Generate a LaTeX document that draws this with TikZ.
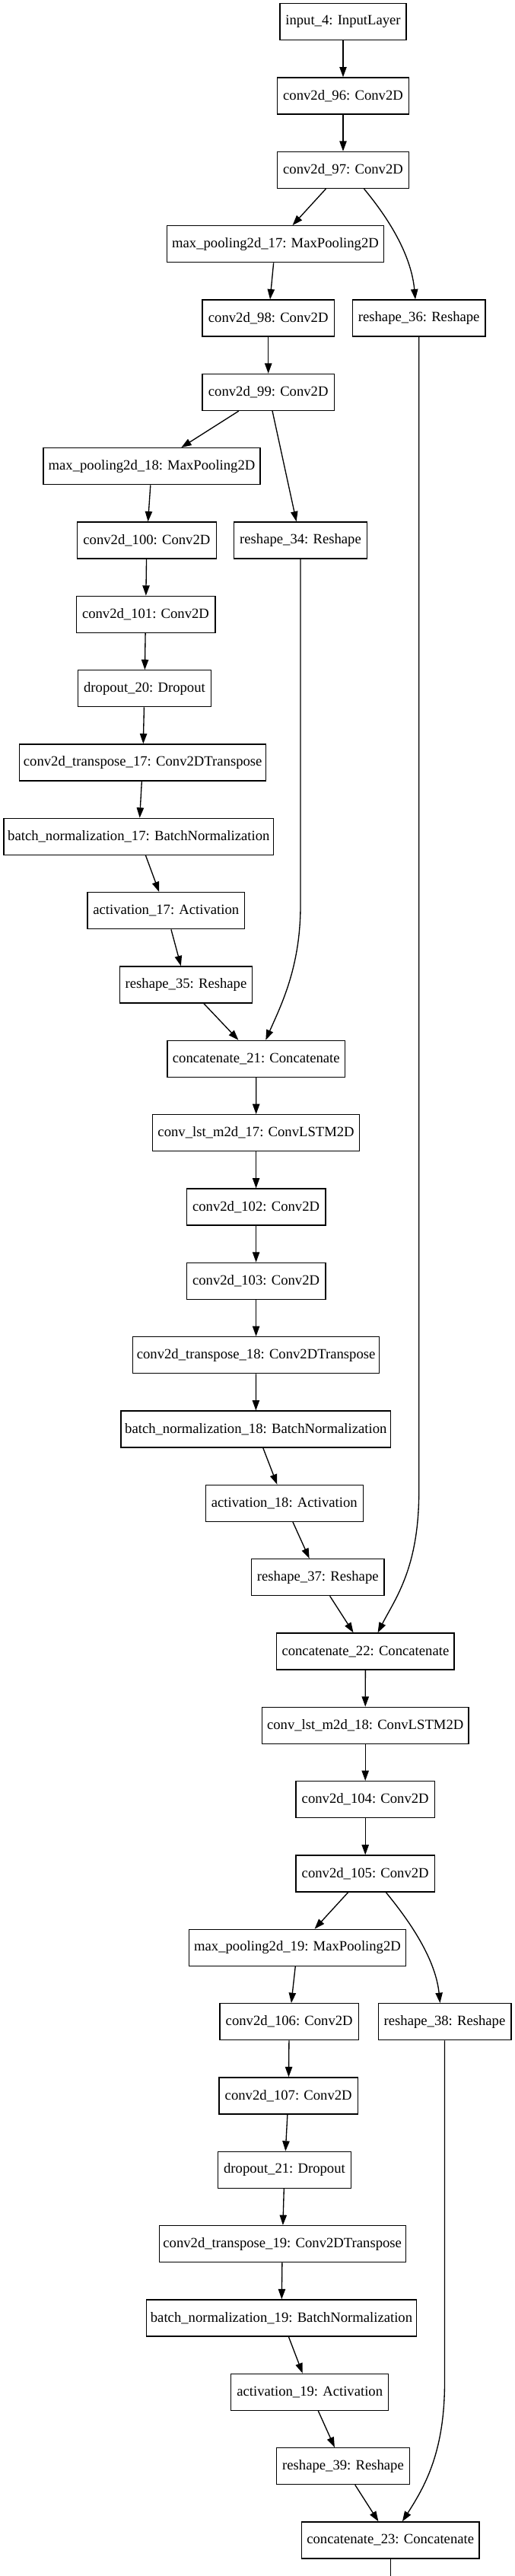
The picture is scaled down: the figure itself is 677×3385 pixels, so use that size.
\documentclass[tikz,border=0pt]{standalone}
\usepackage{fontspec}
\setmainfont{Liberation Serif}
\usetikzlibrary{arrows.meta,calc}
\begin{document}
\begin{tikzpicture}[x=0.75pt,y=-0.75pt,
  layer/.style={draw=black,line width=1pt,minimum height=36pt,inner xsep=2pt,inner ysep=0pt,font=\fontsize{14pt}{16pt}\selectfont,fill=white},
  edge/.style={line width=1pt,-{Triangle[length=10pt,width=7pt]}},
  plainline/.style={line width=1pt}]
\useasboundingbox (0,0) rectangle (677,3385);
\fill[white] (0,0) rectangle (677,3385);
% nodes
\node[layer,minimum width=124.7pt] (input4) at (451,28.7) {input\_4: InputLayer};
\node[layer,minimum width=129.9pt] (c96) at (451,126.0) {conv2d\_96: Conv2D};
\node[layer,minimum width=129.9pt] (c97) at (451,223.4) {conv2d\_97: Conv2D};
\node[layer,minimum width=213.6pt] (mp17) at (362,320.7) {max\_pooling2d\_17: MaxPooling2D};
\node[layer,minimum width=129.9pt] (c98) at (352.7,418.0) {conv2d\_98: Conv2D};
\node[layer,minimum width=130.9pt] (r36) at (550.7,418.0) {reshape\_36: Reshape};
\node[layer,minimum width=129.9pt] (c99) at (352.7,515.4) {conv2d\_99: Conv2D};
\node[layer,minimum width=213.6pt] (mp18) at (199.5,612.7) {max\_pooling2d\_18: MaxPooling2D};
\node[layer,minimum width=137pt] (c100) at (192.9,710.0) {conv2d\_100: Conv2D};
\node[layer,minimum width=130.9pt] (r34) at (395,710.0) {reshape\_34: Reshape};
\node[layer,minimum width=137pt] (c101) at (191.5,807.3) {conv2d\_101: Conv2D};
\node[layer,minimum width=130.9pt] (d20) at (190,904.7) {dropout\_20: Dropout};
\node[layer,minimum width=243pt] (ct17) at (187.7,1002.0) {conv2d\_transpose\_17: Conv2DTranspose};
\node[layer,minimum width=266pt] (bn17) at (182.3,1099.3) {batch\_normalization\_17: BatchNormalization};
\node[layer,minimum width=155.1pt] (a17) at (218.3,1196.7) {activation\_17: Activation};
\node[layer,minimum width=130.9pt] (r35) at (244.5,1294.0) {reshape\_35: Reshape};
\node[layer,minimum width=175.1pt] (cc21) at (336.8,1391.3) {concatenate\_21: Concatenate};
\node[layer,minimum width=203.9pt] (lstm17) at (336.6,1488.7) {conv\_lst\_m2d\_17: ConvLSTM2D};
\node[layer,minimum width=137pt] (c102) at (336.6,1586.0) {conv2d\_102: Conv2D};
\node[layer,minimum width=137pt] (c103) at (336.6,1683.3) {conv2d\_103: Conv2D};
\node[layer,minimum width=243pt] (ct18) at (336.6,1780.6) {conv2d\_transpose\_18: Conv2DTranspose};
\node[layer,minimum width=266pt] (bn18) at (336.3,1878.0) {batch\_normalization\_18: BatchNormalization};
\node[layer,minimum width=155.1pt] (a18) at (373.8,1975.3) {activation\_18: Activation};
\node[layer,minimum width=130.9pt] (r37) at (417.8,2072.6) {reshape\_37: Reshape};
\node[layer,minimum width=175.1pt] (cc22) at (480.4,2170.0) {concatenate\_22: Concatenate};
\node[layer,minimum width=203.9pt] (lstm18) at (480.2,2267.3) {conv\_lst\_m2d\_18: ConvLSTM2D};
\node[layer,minimum width=137pt] (c104) at (480.2,2364.6) {conv2d\_104: Conv2D};
\node[layer,minimum width=137pt] (c105) at (480.2,2462.0) {conv2d\_105: Conv2D};
\node[layer,minimum width=213.6pt] (mp19) at (391,2559.3) {max\_pooling2d\_19: MaxPooling2D};
\node[layer,minimum width=137pt] (c106) at (380.2,2656.6) {conv2d\_106: Conv2D};
\node[layer,minimum width=131pt] (r38) at (584.5,2656.6) {reshape\_38: Reshape};
\node[layer,minimum width=137pt] (c107) at (379.2,2753.9) {conv2d\_107: Conv2D};
\node[layer,minimum width=130.9pt] (d21) at (374,2851.3) {dropout\_21: Dropout};
\node[layer,minimum width=243pt] (ct19) at (371.2,2948.6) {conv2d\_transpose\_19: Conv2DTranspose};
\node[layer,minimum width=266pt] (bn19) at (370,3045.9) {batch\_normalization\_19: BatchNormalization};
\node[layer,minimum width=155.1pt] (a19) at (407.2,3143.3) {activation\_19: Activation};
\node[layer,minimum width=130.9pt] (r39) at (451,3240.6) {reshape\_39: Reshape};
\node[layer,minimum width=175.1pt] (cc23) at (513.2,3337.9) {concatenate\_23: Concatenate};
\coordinate (outend) at (513.2,3385);
% straight edges
\draw[edge] (input4) -- (c96);
\draw[edge] (c96) -- (c97);
\draw[edge] (c97) -- (mp17);
\draw[edge] (mp17) -- (c98);
\draw[edge] (c98) -- (c99);
\draw[edge] (c99) -- (mp18);
\draw[edge] (c99) -- (r34);
\draw[edge] (mp18) -- (c100);
\draw[edge] (c100) -- (c101);
\draw[edge] (c101) -- (d20);
\draw[edge] (d20) -- (ct17);
\draw[edge] (ct17) -- (bn17);
\draw[edge] (bn17) -- (a17);
\draw[edge] (a17) -- (r35);
\draw[edge] (r35) -- (cc21);
\draw[edge] (cc21) -- (lstm17);
\draw[edge] (lstm17) -- (c102);
\draw[edge] (c102) -- (c103);
\draw[edge] (c103) -- (ct18);
\draw[edge] (ct18) -- (bn18);
\draw[edge] (bn18) -- (a18);
\draw[edge] (a18) -- (r37);
\draw[edge] (r37) -- (cc22);
\draw[edge] (cc22) -- (lstm18);
\draw[edge] (lstm18) -- (c104);
\draw[edge] (c104) -- (c105);
\draw[edge] (c105) -- (mp19);
\draw[edge] (mp19) -- (c106);
\draw[edge] (c106) -- (c107);
\draw[edge] (c107) -- (d21);
\draw[edge] (d21) -- (ct19);
\draw[edge] (ct19) -- (bn19);
\draw[edge] (bn19) -- (a19);
\draw[edge] (a19) -- (r39);
\draw[edge] (r39) -- (cc23);
\draw[plainline] (cc23) -- (outend);
% curved edges
\draw[edge] ($(c97.south)+(27.5,0)$) .. controls (505,280) and (540,330) .. ($(r36.north)+(-4.7,0)$);
\draw[edge] (r36.south) -- (550.7,1960) .. controls (550.7,2060) and (520,2100) .. ($(cc22.north)+(16.2,0)$);
\draw[edge] (r34.south) -- (395,1190) .. controls (395,1270) and (370,1320) .. ($(cc21.north)+(12.5,0)$);
\draw[edge] ($(c105.south)+(27.2,0)$) .. controls (533,2518) and (572,2570) .. ($(r38.north)+(-6,0)$);
\draw[edge] (r38.south) -- (584.5,3130) .. controls (584.5,3220) and (560,3265) .. ($(cc23.north)+(15.7,0)$);
\end{tikzpicture}
\end{document}
